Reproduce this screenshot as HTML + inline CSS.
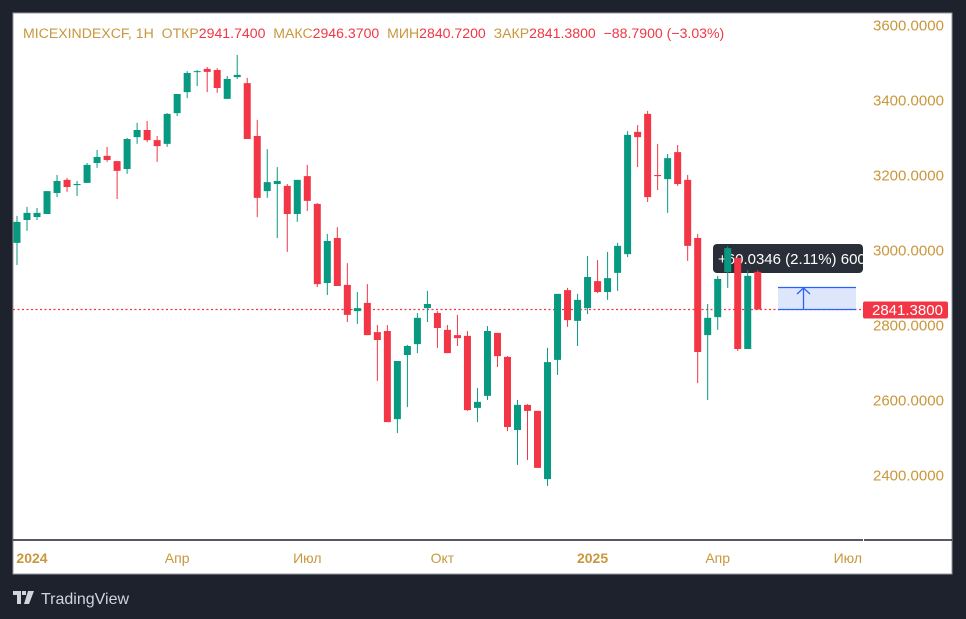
<!DOCTYPE html>
<html><head><meta charset="utf-8"><style>
html,body{margin:0;padding:0;background:#1e222d;width:966px;height:619px;overflow:hidden}
svg{display:block}
text{font-family:"Liberation Sans","DejaVu Sans",sans-serif}
</style></head><body>
<svg id="chart" width="966" height="619" viewBox="0 0 966 619">
<rect x="0" y="0" width="966" height="619" fill="#1e222d"/>
<rect x="13" y="13" width="939" height="561" fill="#ffffff" stroke="#9598a1" stroke-width="1"/>
<line x1="13" y1="540" x2="863" y2="540" stroke="#1e222d" stroke-width="1.5"/>
<line x1="864" y1="540" x2="952" y2="540" stroke="#1e222d" stroke-width="1.5"/>
<g id="yticks"></g>
<g id="xticks"></g>
<line id="lastline" x1="13" x2="863" stroke="#f23645" stroke-width="1.2" stroke-dasharray="2,2.5"/>
<g>
<rect x="713" y="244" width="150" height="29" rx="4" fill="#2a2e39"/>
<text x="718" y="264" font-size="15" fill="#ffffff">+60.0346 (2.11%) 6003</text>
</g>
<g id="candles"></g>
<g>
<rect x="778" y="287" width="78" height="22" fill="#dde6fb"/>
<line x1="778" y1="287.5" x2="856" y2="287.5" stroke="#2962ff" stroke-width="1.3"/>
<line x1="778" y1="309.5" x2="856" y2="309.5" stroke="#2962ff" stroke-width="1.3"/>
<line x1="803.5" y1="288" x2="803.5" y2="309" stroke="#2962ff" stroke-width="1.3"/>
<polyline points="797,294 803.5,288 810,294" fill="none" stroke="#2962ff" stroke-width="1.3"/>
</g>
<g id="lastlabel"></g>
<text x="23" y="38" font-size="14.1" style="white-space:pre" xml:space="preserve"><tspan fill="#c9973c">MICEXINDEXCF, 1H  ОТКР</tspan><tspan fill="#f23645">2941.7400</tspan><tspan fill="#c9973c">  МАКС</tspan><tspan fill="#f23645">2946.3700</tspan><tspan fill="#c9973c">  МИН</tspan><tspan fill="#f23645">2840.7200</tspan><tspan fill="#c9973c">  ЗАКР</tspan><tspan fill="#f23645">2841.3800  −88.7900 (−3.03%)</tspan></text>
<g>
<path d="M13 591h8v13h-4v-9h-4z M22 591h4v4h-4z M28 591h6l-5 13h-5z" fill="#d1d4dc"/>
<text x="41" y="604" font-size="16" fill="#d1d4dc">TradingView</text>
</g>
</svg>
<script>
const opens=[3019,3080,3088,3096,3152,3187,3173,3179,3232,3251,3237,3216,3301,3320,3293,3283,3365,3421,3475,3483,3480,3403,3461,3445,3304,3157,3176,3171,3096,3197,3123,2912,3032,2907,2837,2859,2781,2784,2549,2720,2749,2845,2832,2787,2773,2771,2579,2611,2779,2715,2520,2587,2571,2389,2707,2893,2811,2845,2917,2888,2939,2989,3315,3363,3200,3189,3261,3187,3032,2773,2821,2941,2979,2736,2941.74];
const highs=[3091,3115,3112,3157,3200,3192,3184,3232,3267,3275,3237,3299,3339,3344,3304,3365,3416,3477,3480,3488,3485,3464,3520,3459,3347,3269,3221,3176,3187,3227,3125,3043,3061,2965,2888,2909,2800,2800,2704,2747,2832,2891,2837,2800,2827,2784,2632,2797,2779,2717,2600,2589,2571,2739,2883,2899,2883,2984,2973,2995,3019,3317,3333,3371,3283,3256,3280,3200,3043,2856,2931,3011,2979,2947,2946.37];
const lows=[2960,3051,3080,3096,3141,3155,3144,3179,3219,3235,3136,3203,3283,3288,3235,3275,3357,3405,3437,3421,3419,3403,3456,3296,3088,3139,3032,2995,3075,3104,2901,2880,2904,2808,2803,2773,2651,2541,2512,2581,2725,2808,2739,2725,2744,2571,2541,2600,2688,2517,2427,2440,2419,2371,2667,2795,2744,2829,2885,2867,2891,2981,3221,3128,3160,3099,3171,2971,2645,2600,2787,2899,2731,2736,2840.72];
const closes=[3075,3099,3099,3157,3184,3168,3176,3227,3248,3240,3211,3296,3320,3293,3277,3363,3416,3472,3477,3475,3432,3456,3467,3296,3139,3181,3184,3096,3187,3131,2909,3024,2904,2827,2845,2773,2760,2541,2704,2744,2819,2856,2792,2725,2765,2573,2595,2784,2717,2528,2587,2571,2419,2701,2883,2813,2867,2928,2888,2925,3011,3307,3301,3141,3197,3245,3176,3011,2728,2819,2923,3005,2736,2931,2841.38];
const priceTicks=[3600,3400,3200,3000,2800,2600,2400];
const timeLabels=["2024","Апр","Июл","Окт","2025","Апр","Июл"];
const timeLabelIdx=[1.5,16,29,42.5,57.5,70,83];
const timeLabelBold=[true,false,false,false,true,false,false];
const lastPrice=2841.38;

const NS="http://www.w3.org/2000/svg";
function yS(p){return 25+(3600-p)*0.375;}
function xS(i){return 17+i*10.01;}
function mk(tag,attrs,parent){const e=document.createElementNS(NS,tag);for(const k in attrs)e.setAttribute(k,attrs[k]);parent.appendChild(e);return e;}

const yg=document.getElementById('yticks');
priceTicks.forEach(p=>{
  const t=mk('text',{x:873,y:yS(p)+5.5,'font-size':15,fill:'#c9973c'},yg);
  
  
  t.textContent=p.toFixed(4);
});
const xg=document.getElementById('xticks');
timeLabels.forEach((l,i)=>{
  const t=mk('text',{x:xS(timeLabelIdx[i]),y:563,'font-size':14,fill:'#c9973c','text-anchor':'middle','font-weight':timeLabelBold[i]?'bold':'normal'},xg);
  
  
  t.textContent=l;
});
const ll=document.getElementById('lastline');
ll.setAttribute('y1',yS(lastPrice));ll.setAttribute('y2',yS(lastPrice));

const cg=document.getElementById('candles');
opens.forEach((o,i)=>{
  const c=closes[i],h=highs[i],l=lows[i];
  const col=c>=o?'#089981':'#f23645';
  const x=xS(i);
  const g=mk('g',{},cg);
  
  
  const w=mk('line',{x1:x,x2:x,y1:yS(h),y2:yS(l),stroke:col,'stroke-width':1},g);
  
  
  const top=yS(Math.max(o,c)),bot=yS(Math.min(o,c));
  const b=mk('rect',{x:x-3.5,y:top,width:7,height:Math.max(1,bot-top),fill:col},g);
  
  
});

const lg=document.getElementById('lastlabel');
const ly=yS(lastPrice);
const lr=mk('rect',{x:863,y:ly-8,width:85,height:17,rx:2,fill:'#f23645'},lg);


const lt=mk('text',{x:872,y:ly+5.5,'font-size':15,fill:'#ffffff'},lg);


lt.textContent=lastPrice.toFixed(4);
</script>
</body></html>
